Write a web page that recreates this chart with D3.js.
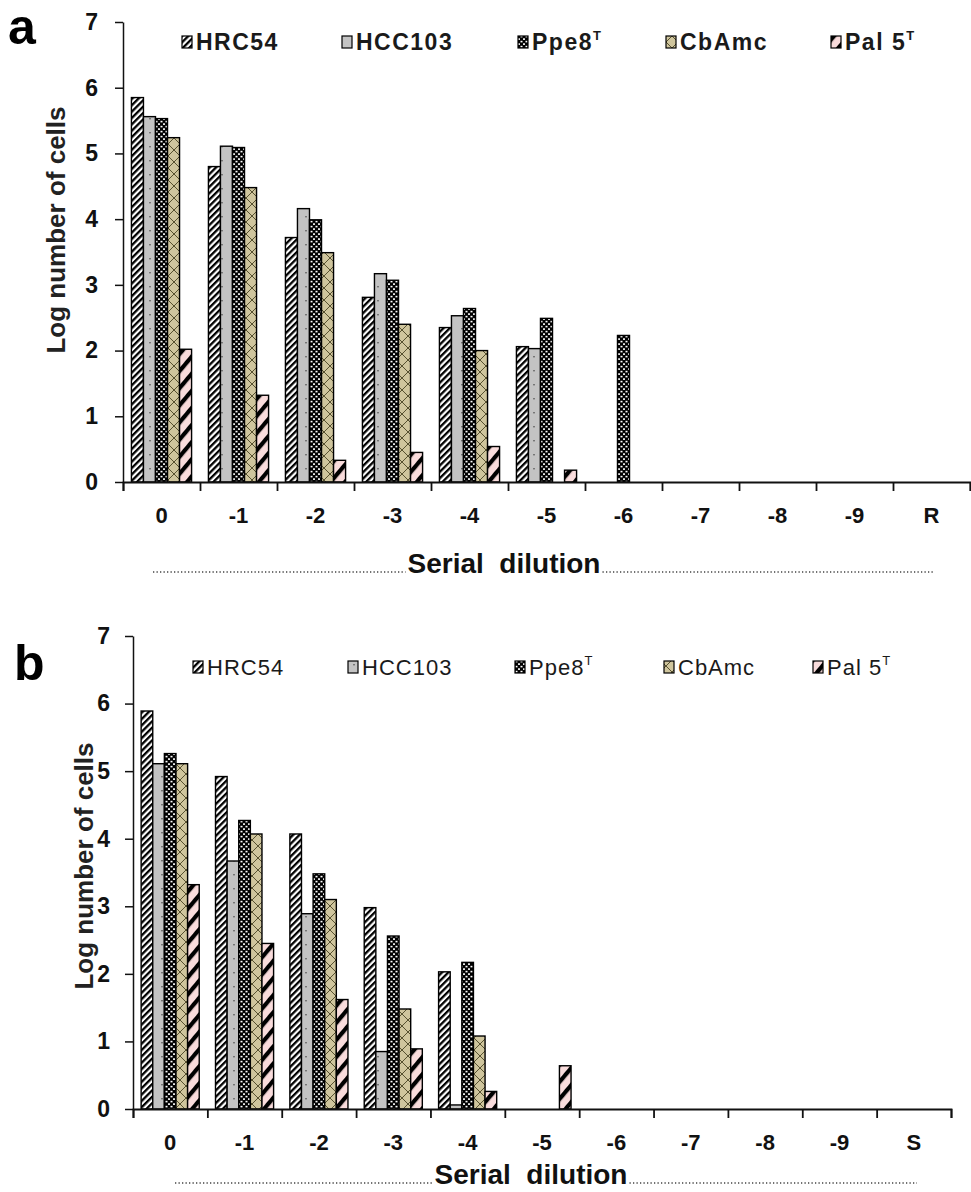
<!DOCTYPE html>
<html lang="en">
<head>
<meta charset="UTF-8">
<title>Serial dilution</title>
<style>
  body { margin: 0; background: #fff; }
  text { font-family: 'Liberation Sans', Arial, sans-serif; }
  .tick text { font-weight: 700; }
</style>
</head>
<body>
<div id="vis"></div>
<script src="https://d3js.org/d3.v7.min.js"></script>
<script>
const width = 971;
const height = 1192;

// data
const series = ["HRC54", "HCC103", "Ppe8", "CbAmc", "Pal 5"];
const superT = [false, false, true, false, true];
const categoriesA = ["0", "-1", "-2", "-3", "-4", "-5", "-6", "-7", "-8", "-9", "R"];
const categoriesB = ["0", "-1", "-2", "-3", "-4", "-5", "-6", "-7", "-8", "-9", "S"];
const yTicks = [0, 1, 2, 3, 4, 5, 6, 7];

const hrc54A  = [5.85, 4.80, 3.72, 2.81, 2.35, 2.06, 0, 0, 0, 0, 0];
const hcc103A = [5.56, 5.11, 4.16, 3.17, 2.53, 2.03, 0, 0, 0, 0, 0];
const ppe8A   = [5.53, 5.09, 3.99, 3.07, 2.64, 2.49, 2.23, 0, 0, 0, 0];
const cbamcA  = [5.24, 4.48, 3.49, 2.40, 2.00, 0, 0, 0, 0, 0, 0];
const pal5A   = [2.02, 1.32, 0.33, 0.45, 0.54, 0.18, 0, 0, 0, 0, 0];

const hrc54B  = [5.89, 4.92, 4.07, 2.98, 2.03, 0, 0, 0, 0, 0, 0];
const hcc103B = [5.11, 3.67, 2.89, 0.85, 0.06, 0, 0, 0, 0, 0, 0];
const ppe8B   = [5.26, 4.27, 3.48, 2.56, 2.17, 0, 0, 0, 0, 0, 0];
const cbamcB  = [5.11, 4.07, 3.10, 1.48, 1.08, 0, 0, 0, 0, 0, 0];
const pal5B   = [3.32, 2.45, 1.62, 0.89, 0.26, 0.64, 0, 0, 0, 0, 0];

let svg = d3.select("#vis").append("svg")
    .attr("width", width)
    .attr("height", height);

// fill patterns
let defs = svg.append("defs");

let p = defs.append("pattern").attr("id", "pat0")
    .attr("patternUnits", "userSpaceOnUse").attr("width", 4.5).attr("height", 4.5)
    .attr("patternTransform", "rotate(45)");
p.append("rect").attr("width", 4.5).attr("height", 4.5).attr("fill", "#fff");
p.append("rect").attr("width", 2.3).attr("height", 4.5).attr("fill", "#000");

p = defs.append("pattern").attr("id", "pat1")
    .attr("patternUnits", "userSpaceOnUse").attr("width", 12).attr("height", 14);
p.append("rect").attr("width", 12).attr("height", 14).attr("fill", "#c3c3c3");
p.append("rect").attr("x", 5.3).attr("y", 6).attr("width", 1.4).attr("height", 1.4).attr("fill", "#555");

p = defs.append("pattern").attr("id", "pat2")
    .attr("patternUnits", "userSpaceOnUse").attr("width", 5).attr("height", 5);
p.append("rect").attr("width", 5).attr("height", 5).attr("fill", "#000");
p.append("rect").attr("x", 0.5).attr("y", 0.8).attr("width", 2).attr("height", 1.6).attr("fill", "#fff");
p.append("rect").attr("x", 3).attr("y", 3.3).attr("width", 2).attr("height", 1.6).attr("fill", "#fff");

p = defs.append("pattern").attr("id", "pat3")
    .attr("patternUnits", "userSpaceOnUse").attr("width", 12).attr("height", 12);
p.append("rect").attr("width", 12).attr("height", 12).attr("fill", "#cfc59d");
p.append("path").attr("d", "M0,0L12,12M12,0L0,12")
    .attr("stroke", "#4a4424").attr("stroke-width", 0.9);

p = defs.append("pattern").attr("id", "pat4")
    .attr("patternUnits", "userSpaceOnUse").attr("width", 11).attr("height", 11)
    .attr("patternTransform", "rotate(40)");
p.append("rect").attr("width", 11).attr("height", 11).attr("fill", "#f9dcdc");
p.append("rect").attr("width", 4.2).attr("height", 11).attr("fill", "#000");

function drawPanel(cfg) {
  let g = svg.append("g");
  const values = cfg.values;

  let xScale = d3.scaleBand()
    .domain(cfg.categories)
    .range([cfg.x0, cfg.x1]);
  let sScale = d3.scaleBand()
    .domain(series)
    .range([0, xScale.bandwidth()])
    .paddingOuter(0.7);
  let yScale = d3.scaleLinear()
    .domain([0, 7])
    .range([cfg.y0, cfg.y7]);
  let edge = d3.scaleLinear()
    .domain([0, cfg.categories.length])
    .range([cfg.x0, cfg.x1]);

  // bars
  series.forEach(function(s, si) {
    let rows = cfg.categories.map(function(c, ci) {
      return { cat: c, v: values[si][ci] };
    }).filter(function(d) { return d.v > 0; });
    g.append("g").selectAll("rect")
      .data(rows)
      .enter().append("rect")
      .attr("x", function(d) { return xScale(d.cat) + sScale(s); })
      .attr("y", function(d) { return yScale(d.v); })
      .attr("width", sScale.bandwidth())
      .attr("height", function(d) { return yScale(0) - yScale(d.v); })
      .attr("fill", "url(#pat" + si + ")")
      .attr("stroke", "#000")
      .attr("stroke-width", 1.4);
  });

  // y axis
  let yAxis = g.append("g")
    .attr("transform", "translate(" + cfg.x0 + ",0)")
    .call(d3.axisLeft(yScale).tickValues(yTicks).tickFormat(d3.format("d"))
      .tickSize(8).tickSizeOuter(0).tickPadding(cfg.yPad));
  yAxis.selectAll("text").style("font-size", "23px").attr("fill", "#111");
  yAxis.selectAll("line, path").attr("stroke", "#111").attr("stroke-width", 1.5);

  // x axis: boundary ticks
  let xTickAxis = g.append("g")
    .attr("transform", "translate(0," + cfg.y0 + ")")
    .call(d3.axisBottom(edge).ticks(cfg.categories.length).tickFormat("").tickSize(9).tickSizeOuter(9));
  xTickAxis.selectAll("line, path").attr("stroke", "#111").attr("stroke-width", 1.8);

  // x axis: category labels
  let xLab = g.append("g")
    .attr("transform", "translate(0," + cfg.y0 + ")")
    .call(d3.axisBottom(xScale).tickSize(0).tickPadding(cfg.labelPad));
  xLab.select(".domain").remove();
  xLab.selectAll("text").style("font-size", "22px").attr("fill", "#111");

  // y title
  g.append("text")
    .attr("transform", "translate(" + cfg.yTitleX + "," + cfg.yTitleY + ") rotate(-90)")
    .attr("text-anchor", "middle")
    .attr("dominant-baseline", "central")
    .style("font-size", "26px").style("font-weight", "700")
    .attr("fill", "#222")
    .text("Log number of cells");

  // x title with dotted leaders
  let xt = g.append("text")
    .attr("x", cfg.xTitleX).attr("y", cfg.xTitleY)
    .attr("text-anchor", "middle")
    .style("font-size", "28px").style("font-weight", "700")
    .style("white-space", "pre")
    .attr("fill", "#111")
    .text("Serial  dilution");
  let bb = xt.node().getBBox();
  [[cfg.dotL, bb.x - 2], [bb.x + bb.width + 2, cfg.dotR]].forEach(function(seg) {
    g.append("line")
      .attr("x1", seg[0]).attr("x2", seg[1])
      .attr("y1", cfg.xTitleY - 1).attr("y2", cfg.xTitleY - 1)
      .attr("stroke", "#444").attr("stroke-width", 1.3)
      .attr("stroke-dasharray", "1.3 2.2");
  });

  // panel letter
  g.append("text")
    .attr("x", cfg.letterX).attr("y", cfg.letterY)
    .style("font-size", "50px").style("font-weight", "700")
    .attr("fill", "#000")
    .text(cfg.letter);

  // legend
  series.forEach(function(s, si) {
    let lx = cfg.legendX[si];
    g.append("rect")
      .attr("x", lx).attr("y", cfg.legendY - 6)
      .attr("width", 10).attr("height", 12)
      .attr("fill", "url(#pat" + si + ")")
      .attr("stroke", "#000").attr("stroke-width", 1.2);
    let t = g.append("text")
      .attr("x", lx + 14).attr("y", cfg.legendY)
      .attr("dominant-baseline", "central")
      .style("font-size", cfg.legendSize).style("font-weight", cfg.legendWeight)
      .style("letter-spacing", cfg.legendSpacing)
      .attr("fill", "#1a1a1a");
    t.append("tspan").text(s);
    if (superT[si]) {
      t.append("tspan").attr("dy", -7).style("font-size", "13px").text("T");
    }
  });
}

drawPanel({
  letter: "a", letterX: 8, letterY: 44,
  categories: categoriesA,
  values: [hrc54A, hcc103A, ppe8A, cbamcA, pal5A],
  x0: 123, x1: 970, y0: 482, y7: 22,
  yPad: 17, labelPad: 25,
  yTitleX: 56, yTitleY: 230,
  xTitleX: 504, xTitleY: 573, dotL: 153, dotR: 933,
  legendX: [182, 342, 518, 666, 831], legendY: 42,
  legendSize: "23px", legendWeight: "700", legendSpacing: "1.5px"
});

drawPanel({
  letter: "b", letterX: 14, letterY: 680,
  categories: categoriesB,
  values: [hrc54B, hcc103B, ppe8B, cbamcB, pal5B],
  x0: 133, x1: 951, y0: 1109, y7: 636,
  yPad: 15, labelPad: 25,
  yTitleX: 84, yTitleY: 866,
  xTitleX: 531, xTitleY: 1184, dotL: 175, dotR: 917,
  legendX: [193, 348, 515, 664, 813], legendY: 667,
  legendSize: "22px", legendWeight: "400", legendSpacing: "1px"
});
</script>
</body>
</html>
